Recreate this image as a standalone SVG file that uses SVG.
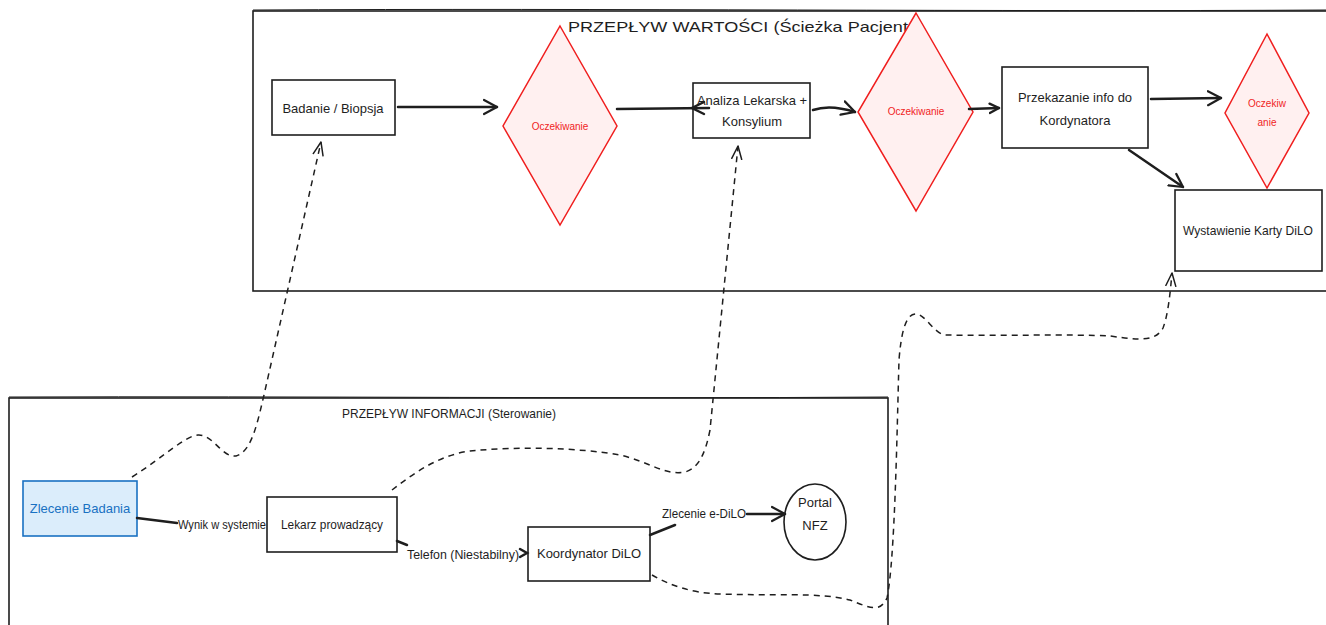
<svg xmlns="http://www.w3.org/2000/svg" width="1326" height="625" viewBox="0 0 1326 625">
<defs>
<style>
text{font-family:"Liberation Sans","DejaVu Sans",sans-serif;font-size:13px;fill:#1e1e1e;text-anchor:middle;dominant-baseline:central}
.box{fill:#fff;stroke:#1e1e1e;stroke-width:1.6}
.frame{fill:none;stroke:#1e1e1e;stroke-width:1.6}
.dia{fill:#fff0f0;stroke:#f01e1e;stroke-width:1.5}
.red{fill:#f01e1e;font-size:10px}
.blue{fill:#1971c2}
.sol{fill:none;stroke:#1e1e1e;stroke-width:2.5;stroke-linecap:round}
.dash{fill:none;stroke:#1e1e1e;stroke-width:1.5;stroke-dasharray:6 5}
.lbl{text-anchor:start}
</style>
<marker id="ah" markerUnits="userSpaceOnUse" markerWidth="20" markerHeight="20" refX="14" refY="8" orient="auto" viewBox="0 0 20 16">
<path d="M1,1 L14,8 L1,15" fill="none" stroke="#1e1e1e" stroke-width="2.2" stroke-linecap="round" stroke-linejoin="round"/>
</marker>
<marker id="ahs" markerUnits="userSpaceOnUse" markerWidth="14" markerHeight="14" refX="9" refY="5" orient="auto" viewBox="0 0 12 10">
<path d="M1,1 L9,5 L1,9" fill="none" stroke="#1e1e1e" stroke-width="2" stroke-linecap="round" stroke-linejoin="round"/>
</marker>
<marker id="ahd" markerUnits="userSpaceOnUse" markerWidth="16" markerHeight="16" refX="14" refY="6" orient="auto" viewBox="0 0 16 12">
<path d="M1,1 L14,6 L1,11" fill="none" stroke="#1e1e1e" stroke-width="1.5" stroke-linecap="round" stroke-linejoin="round"/>
</marker>
</defs>
<rect width="1326" height="625" fill="#fff"/>

<g id="container-value">
<rect class="frame" x="253" y="11" width="1090" height="280"/>
<path d="M253,10 C600,8 1000,12 1326,10" fill="none" stroke="#1e1e1e" stroke-width="1"/>
<text x="568" y="26" style="text-anchor:start;font-size:15px" textLength="356" lengthAdjust="spacingAndGlyphs">PRZEPŁYW WARTOŚCI (Ścieżka Pacjenta)</text>
</g>

<g id="container-info">
<rect class="frame" x="9" y="398" width="879" height="250"/>
<path d="M9,397 C300,396 600,399 888,397" fill="none" stroke="#1e1e1e" stroke-width="1"/>
<text x="449" y="413" textLength="214" lengthAdjust="spacingAndGlyphs">PRZEPŁYW INFORMACJI (Sterowanie)</text>
</g>

<g id="badanie">
<rect class="box" x="272" y="80" width="123" height="55"/>
<text x="333" y="108">Badanie / Biopsja</text>
</g>

<g id="oczekiwanie-1">
<path class="dia" d="M560,26 L617,126 L560,225 L503,126 Z"/>
<text class="red" x="560" y="126">Oczekiwanie</text>
</g>

<g id="analiza">
<rect class="box" x="693" y="83" width="117" height="55"/>
<text x="752" y="100">Analiza Lekarska +</text>
<text x="752" y="121">Konsylium</text>
</g>

<g id="oczekiwanie-2">
<path class="dia" d="M916,13 L973,112 L916,211 L858,112 Z"/>
<text class="red" x="916" y="111">Oczekiwanie</text>
</g>

<g id="przekazanie">
<rect class="box" x="1002" y="67" width="146" height="81"/>
<text x="1075" y="97">Przekazanie info do</text>
<text x="1075" y="120">Kordynatora</text>
</g>

<g id="oczekiwanie-3">
<path class="dia" d="M1267,34 L1309,113 L1267,188 L1225,113 Z"/>
<text class="red" x="1267" y="103">Oczekiw</text>
<text class="red" x="1267" y="122">anie</text>
</g>

<g id="wystawienie">
<rect class="box" x="1175" y="190" width="147" height="81"/>
<text x="1248" y="230" textLength="130" lengthAdjust="spacingAndGlyphs">Wystawienie Karty DiLO</text>
</g>

<g id="zlecenie">
<rect x="23" y="481" width="114" height="55" fill="#dbedfb" stroke="#1971c2" stroke-width="1.6"/>
<text class="blue" x="80" y="508">Zlecenie Badania</text>
</g>

<g id="lekarz">
<rect class="box" x="267" y="497" width="130" height="55"/>
<text x="332" y="524" textLength="102" lengthAdjust="spacingAndGlyphs">Lekarz prowadzący</text>
</g>

<g id="koordynator">
<rect class="box" x="528" y="527" width="122" height="54"/>
<text x="589" y="553">Koordynator DiLO</text>
</g>

<g id="portal">
<ellipse cx="815" cy="522" rx="31" ry="38" fill="#fff" stroke="#1e1e1e" stroke-width="1.6"/>
<text x="815" y="502">Portal</text>
<text x="815" y="525">NFZ</text>
</g>

<g id="connectors">
<path class="sol" d="M398,107 L497,107" marker-end="url(#ah)"/>
<path class="sol" d="M617,109 L709,108"/>
<path class="sol" d="M704,102 L692,108 L704,114" stroke-width="2"/>
<path class="sol" d="M813,110 Q830,104 855,112" marker-end="url(#ah)"/>
<path class="sol" d="M969,109 L999,108" stroke-width="2" marker-end="url(#ahs)"/>
<path class="sol" d="M1151,99 L1221,98" marker-end="url(#ah)"/>
<path class="sol" d="M1129,150 L1183,187" marker-end="url(#ah)"/>
<path class="sol" d="M137,518 L177,523" stroke-width="3"/>
<path class="sol" d="M397,541 L407,545"/>
<path class="sol" d="M520,549 L527,553 L520,557" stroke-width="2"/>
<path class="sol" d="M650,535 L675,525"/>
<path class="sol" d="M747,514 L785,514" marker-end="url(#ah)"/>
<path class="dash" d="M132,477 C165,456 185,436 198,435 C213,434 222,458 236,456 C252,452 258,420 264,395 L321,142" marker-end="url(#ahd)"/>
<path class="dash" d="M392,490 C415,472 440,455 470,451 C520,446 580,448 620,455 C650,462 665,476 685,472 C700,468 706,450 710,430 L738,146" marker-end="url(#ahd)"/>
<path class="dash" d="M652,575 C670,585 690,593 720,594 C770,596 820,592 850,600 C870,608 880,613 887,598 C895,560 897,430 899,360 C901,335 905,315 915,314 C925,313 933,333 945,335 C1000,336 1070,334 1110,336 C1140,340 1155,342 1163,328 C1168,315 1170,295 1172,273" marker-end="url(#ahd)"/>
<text class="lbl" x="178" y="524" textLength="88" lengthAdjust="spacingAndGlyphs">Wynik w systemie</text>
<text class="lbl" x="407" y="554" textLength="112" lengthAdjust="spacingAndGlyphs">Telefon (Niestabilny)</text>
<text class="lbl" x="662" y="513" textLength="84" lengthAdjust="spacingAndGlyphs">Zlecenie e-DiLO</text>
</g>
</svg>
